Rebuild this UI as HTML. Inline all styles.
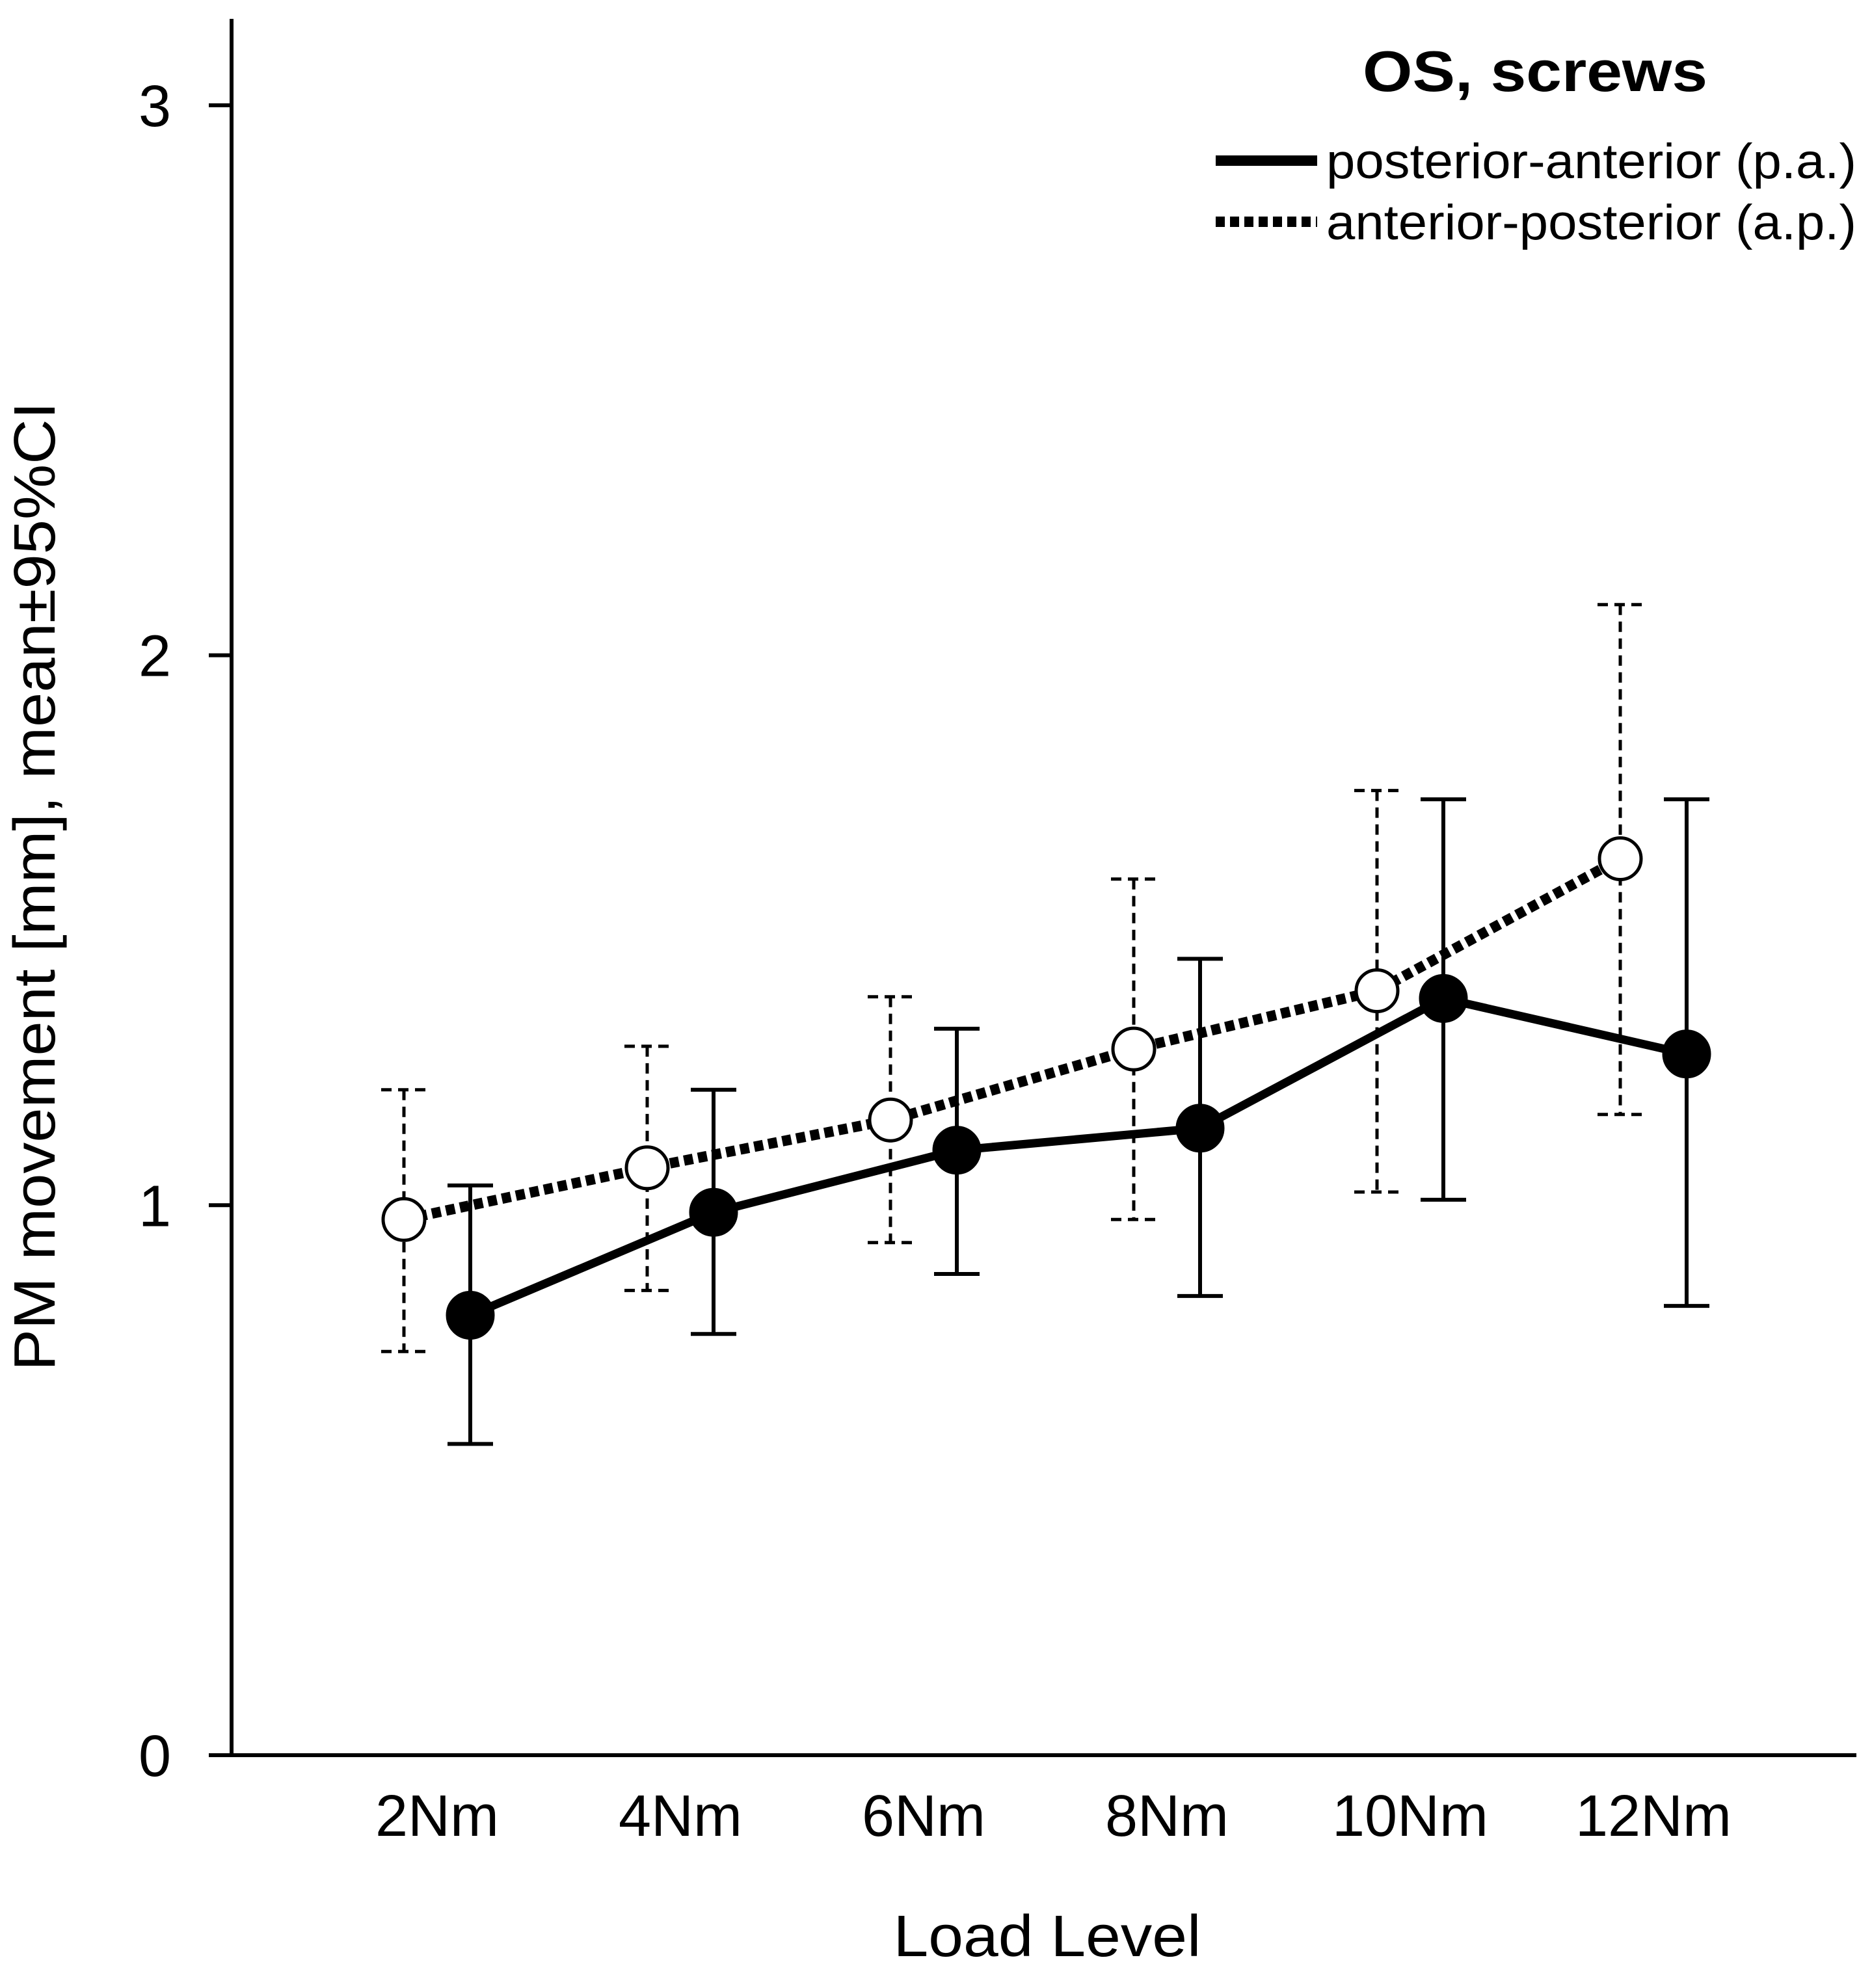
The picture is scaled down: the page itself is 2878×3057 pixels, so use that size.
<!DOCTYPE html>
<html><head><meta charset="utf-8"><style>
html,body{margin:0;padding:0;background:#fff}
svg{display:block}
text{font-family:"Liberation Sans",Arial,sans-serif;fill:#000}
</style></head><body>
<svg id="chart" width="2878" height="3057" viewBox="0 0 2878 3057" xmlns="http://www.w3.org/2000/svg">
<g id="axes">
<line x1="356" y1="29" x2="356" y2="2702" stroke="#000" stroke-width="6"/>
<line x1="353" y1="2699" x2="2854" y2="2699" stroke="#000" stroke-width="6"/>
</g>
<g id="yticks"></g>
<g id="xticks"></g>
<text transform="translate(84,1363) rotate(-90)" text-anchor="middle" font-size="90" textLength="1490" lengthAdjust="spacingAndGlyphs">PM movement [mm], mean±95%CI</text>
<text x="1610" y="3008" text-anchor="middle" font-size="90" textLength="473" lengthAdjust="spacingAndGlyphs">Load Level</text>
<g id="series"></g>
<g id="legend">
<text x="2360" y="140" text-anchor="middle" font-size="88" font-weight="bold" textLength="530" lengthAdjust="spacingAndGlyphs">OS, screws</text>
<g>
<line x1="1869" y1="247" x2="2025" y2="247" stroke="#000" stroke-width="16"/>
<text x="2039" y="274" font-size="76" textLength="815" lengthAdjust="spacingAndGlyphs">posterior-anterior (p.a.)</text>
</g>
<g>
<line x1="1869" y1="341" x2="2025" y2="341" stroke="#000" stroke-width="16" stroke-dasharray="14 8"/>
<text x="2039" y="368" font-size="76" textLength="815" lengthAdjust="spacingAndGlyphs">anterior-posterior (a.p.)</text>
</g>
</g>
</svg>
<script>
const categories = ["2Nm","4Nm","6Nm","8Nm","10Nm","12Nm"];
const yTicks = [0,1,2,3];
const paMean = [0.80,0.987,1.10,1.14,1.376,1.275];
const paUpper = [1.036,1.21,1.321,1.448,1.738,1.738];
const paLower = [0.566,0.766,0.875,0.835,1.010,0.817];
const apMean = [0.974,1.068,1.155,1.284,1.39,1.63];
const apUpper = [1.21,1.289,1.379,1.593,1.754,2.092];
const apLower = [0.734,0.845,0.932,0.974,1.024,1.165];

const NS="http://www.w3.org/2000/svg";
function yScale(v){return 2699 - v*845.7;}
function xScale(i){return 672 + i*374;}
function mk(tag,attrs,parent){const e=document.createElementNS(NS,tag);for(const k in attrs)e.setAttribute(k,attrs[k]);parent.appendChild(e);return e;}

const yt=document.getElementById('yticks');
yTicks.forEach(v=>{
  const l=mk('line',{x1:321,x2:356,y1:yScale(v),y2:yScale(v),stroke:'#000','stroke-width':6},yt);
  
  
  const t=mk('text',{x:263,y:yScale(v)+32,'text-anchor':'end','font-size':90},yt);
  t.textContent=String(v);
  
  
});
const xt=document.getElementById('xticks');
categories.forEach((c,i)=>{
  const t=mk('text',{x:xScale(i),y:2823,'text-anchor':'middle','font-size':90},xt);
  t.textContent=c;
  
  
});

const sg=document.getElementById('series');
function drawSeries(name,mean,up,lo,off,dashed,filled){
  const g=mk('g',{},sg);
  
  
  mean.forEach((m,i)=>{
    const x=xScale(i)+off;
    const eg=mk('g',{stroke:'#000','stroke-width':dashed?5:6,fill:'none'},g);
    
    
    const da=dashed?{'stroke-dasharray':'16 10'}:{};
    mk('line',Object.assign({x1:x,x2:x,y1:yScale(up[i]),y2:yScale(lo[i])},da),eg);
    mk('line',Object.assign({x1:x-35,x2:x+35,y1:yScale(up[i]),y2:yScale(up[i])},da),eg);
    mk('line',Object.assign({x1:x-35,x2:x+35,y1:yScale(lo[i]),y2:yScale(lo[i])},da),eg);
  });
  const pts=mean.map((m,i)=>(xScale(i)+off)+','+yScale(m)).join(' ');
  const pl=mk('polyline',{points:pts,fill:'none',stroke:'#000','stroke-width':dashed?16:13,'stroke-linejoin':'round'},g);
  if(dashed)pl.setAttribute('stroke-dasharray','14 8');
  
  
  mean.forEach((m,i)=>{
    const c=mk('circle',{cx:xScale(i)+off,cy:yScale(m),r:filled?35:32,fill:filled?'#000':'#fff',stroke:'#000','stroke-width':5},g);
    
    
  });
}
drawSeries('ap',apMean,apUpper,apLower,-51,true,false);
drawSeries('pa',paMean,paUpper,paLower,51,false,true);
</script>
</body></html>
